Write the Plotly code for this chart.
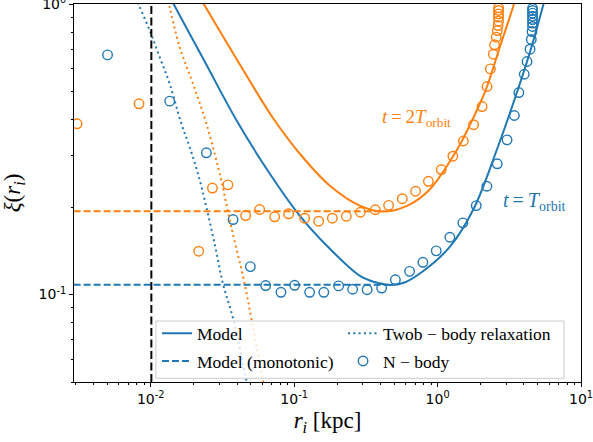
import plotly.graph_objects as go

BLUE = "#1f77b4"
ORANGE = "#ff7f0e"

# ---------------- data ----------------
# N-body, t = T_orbit (blue)
nb1_r = [0.0050, 0.01356, 0.02443, 0.0375, 0.0495, 0.0633, 0.0809, 0.1008, 0.1282, 0.161,
         0.2042, 0.2557, 0.3227, 0.4073, 0.508, 0.638, 0.790, 0.979, 1.218, 1.501,
         1.861, 2.206, 2.606, 3.05, 3.43, 3.687, 4.02, 4.205, 4.412, 4.50,
         4.556, 4.592, 4.592, 4.592, 4.592, 4.592, 4.592, 4.592]
nb1_xi = [0.668, 0.463, 0.3075, 0.1812, 0.1248, 0.1074, 0.1018, 0.1076, 0.1018, 0.1018,
          0.1071, 0.1043, 0.1039, 0.1053, 0.1124, 0.1202, 0.1291, 0.1414, 0.1575, 0.1765,
          0.2024, 0.2359, 0.2818, 0.3407, 0.4132, 0.4958, 0.573, 0.634, 0.699, 0.755,
          0.804, 0.837, 0.860, 0.884, 0.908, 0.930, 0.950, 0.967]

# N-body, t = 2 T_orbit (orange)
nb2_r = [0.003065, 0.00829, 0.0216, 0.02692, 0.0345, 0.0459, 0.0575, 0.0731, 0.0916, 0.1184,
         0.1482, 0.1846, 0.2311, 0.2897, 0.368, 0.4555, 0.5675, 0.7026, 0.863, 1.061,
         1.278, 1.513, 1.782, 2.042, 2.213, 2.333, 2.445, 2.496, 2.565, 2.606,
         2.640, 2.661, 2.661, 2.661, 2.661, 2.661]
nb2_xi = [0.387, 0.4534, 0.141, 0.2326, 0.2385, 0.187, 0.1962, 0.1852, 0.1896, 0.1831,
          0.1788, 0.1831, 0.186, 0.192, 0.1958, 0.2028, 0.2137, 0.2267, 0.2453, 0.2693,
          0.2993, 0.3376, 0.3842, 0.4437, 0.52, 0.598, 0.6718, 0.7237, 0.769, 0.8104,
          0.843, 0.873, 0.901, 0.925, 0.950, 0.970]

# Model, t = T_orbit
m1_r = [0.01232, 0.01445, 0.02378, 0.03972, 0.06537, 0.1092, 0.1768, 0.286, 0.3639, 0.4629,
        0.5888, 0.786, 1.212, 1.782, 2.578, 3.497, 4.377, 5.48, 5.843]
m1_xi = [1.167, 1.0, 0.634, 0.3972, 0.2673, 0.187, 0.1440, 0.1162, 0.1104, 0.1078,
         0.1100, 0.120, 0.1455, 0.1970, 0.3132, 0.4805, 0.6755, 1.0, 1.122]

# Model, t = 2 T_orbit
m2_r = [0.0216, 0.0234, 0.04103, 0.0708, 0.1092, 0.1768, 0.286, 0.4272, 0.638, 0.880,
        1.356, 1.725, 2.161, 2.704, 3.413, 3.552]
m2_xi = [1.07, 1.0, 0.6289, 0.4067, 0.3058, 0.2372, 0.2024, 0.1931, 0.2040, 0.2298,
         0.3132, 0.3939, 0.504, 0.7058, 1.0, 1.07]

# Model (monotonic): flat core up to the minimum
mono1_r = [0.0029, 0.4629]
mono1_xi = [0.108, 0.108]
mono2_r = [0.0029, 0.4272]
mono2_xi = [0.1935, 0.1935]

# Two-body relaxation
tb1_r = [0.00786, 0.00829, 0.00984, 0.01155, 0.01356, 0.01636, 0.0187, 0.02137, 0.02443,
         0.02816, 0.0319, 0.0375, 0.04644, 0.04818]
tb1_xi = [1.053, 0.988, 0.810, 0.656, 0.531, 0.387, 0.3214, 0.2603, 0.1998,
          0.1465, 0.1088, 0.0827, 0.0506, 0.046]
tb2_r = [0.01303, 0.01356, 0.01592, 0.01972, 0.02436, 0.03026, 0.03651, 0.04519, 0.0503,
         0.06063, 0.0628]
tb2_xi = [1.07, 0.975, 0.710, 0.531, 0.3894, 0.2603, 0.1705, 0.1088, 0.0827,
          0.0506, 0.046]

r_soft = 0.0101

x_ticks = [0.01, 0.1, 1, 10]
x_ticktext = ["10<sup>-2</sup>", "10<sup>-1</sup>", "10<sup>0</sup>", "10<sup>1</sup>"]
y_ticks = [0.1, 1]
y_ticktext = ["10<sup>-1</sup>", "10<sup>0</sup>"]
x_minor = [m * 10 ** e for e in (-3, -2, -1, 0) for m in range(2, 10)]
y_minor = [m * 10 ** e for e in (-2, -1) for m in range(2, 10)]

SERIF = "Liberation Serif"
DOT = "2px,3.3px"
DASH = "7px,3px"

# ---------------- figure ----------------
fig = go.Figure()

# blue series (these carry the legend entries)
fig.add_trace(go.Scatter(x=m1_r, y=m1_xi, mode="lines", line=dict(color=BLUE, width=2, shape="spline"),
                         name="Model", legend="legend", legendgroup="a"))
fig.add_trace(go.Scatter(x=mono1_r, y=mono1_xi, mode="lines",
                         line=dict(color=BLUE, width=2, dash=DASH),
                         name="Model (monotonic)", legend="legend", legendgroup="b"))
fig.add_trace(go.Scatter(x=tb1_r, y=tb1_xi, mode="lines",
                         line=dict(color=BLUE, width=2, dash=DOT, shape="spline"),
                         name="Twob − body relaxation", legend="legend2", legendgroup="c"))
fig.add_trace(go.Scatter(x=nb1_r, y=nb1_xi, mode="markers",
                         marker=dict(symbol="circle-open", size=9.5, color=BLUE, line=dict(width=1.4)),
                         name="N − body", legend="legend2", legendgroup="d"))

# orange series
fig.add_trace(go.Scatter(x=m2_r, y=m2_xi, mode="lines", line=dict(color=ORANGE, width=2, shape="spline"),
                         showlegend=False))
fig.add_trace(go.Scatter(x=tb2_r, y=tb2_xi, mode="lines",
                         line=dict(color=ORANGE, width=2, dash=DOT, shape="spline"),
                         showlegend=False))
fig.add_trace(go.Scatter(x=mono2_r, y=mono2_xi, mode="lines",
                         line=dict(color=ORANGE, width=2, dash=DASH), showlegend=False))
fig.add_trace(go.Scatter(x=nb2_r, y=nb2_xi, mode="markers",
                         marker=dict(symbol="circle-open", size=9.5, color=ORANGE, line=dict(width=1.4)),
                         showlegend=False))

fig.add_shape(type="line", xref="x", yref="paper", x0=r_soft, x1=r_soft, y0=0, y1=1,
              line=dict(color="black", width=2, dash="8px,3.5px"))

# legend frame (one box around both legend columns)
fig.add_shape(type="rect", xref="paper", yref="paper", x0=0.1617, x1=0.9665, y0=0.0098, y1=0.1613,
              layer="above", fillcolor="rgba(255,255,255,0.8)", line=dict(color="#cccccc", width=1))

TS = "\u2009"
fig.add_annotation(xref="paper", yref="paper", x=0.6036, y=0.735, xanchor="left",
                   text=f"<i>t</i>{TS}={TS}2<i>T</i><sub>orbit</sub>",
                   showarrow=False, font=dict(family=SERIF, size=19, color=ORANGE))
fig.add_annotation(xref="paper", yref="paper", x=0.8422, y=0.4778, xanchor="left",
                   text=f"<i>t</i>{TS}={TS}<i>T</i><sub>orbit</sub>",
                   showarrow=False, font=dict(family=SERIF, size=20, color=BLUE))

axis_common = dict(type="log", showgrid=False, zeroline=False, showline=True, linecolor="black",
                   linewidth=1, mirror=True, ticks="outside", ticklen=4, tickwidth=1, tickcolor="black",
                   ticklabeloverflow="allow", automargin=False,
                   tickfont=dict(family="DejaVu Sans", size=14, color="black"))

fig.update_xaxes(**axis_common, range=[-2.535, 1], tickvals=x_ticks, ticktext=x_ticktext,
                 minor=dict(tickvals=x_minor, ticks="outside", ticklen=2, tickcolor="black", tickwidth=1),
                 title=dict(text="<i>r<sub>i</sub></i> [kpc]", font=dict(family=SERIF, size=23, color="black"),
                            standoff=6))
fig.update_yaxes(**axis_common, range=[-1.301, 0], tickvals=y_ticks, ticktext=y_ticktext,
                 minor=dict(tickvals=y_minor, ticks="outside", ticklen=2, tickcolor="black", tickwidth=1),
                 title=dict(text="<i>ξ</i>(<i>r<sub>i</sub></i>)", font=dict(family=SERIF, size=23, color="black"),
                            standoff=14))

legend_common = dict(orientation="v", xanchor="left", yanchor="top",
                     bgcolor="rgba(0,0,0,0)", borderwidth=0, tracegroupgap=2,
                     font=dict(family=SERIF, size=17.5, color="black"), itemwidth=30)

fig.update_layout(
    width=593, height=442,
    margin=dict(l=74, r=12, t=4, b=60, autoexpand=False),
    paper_bgcolor="white", plot_bgcolor="white",
    showlegend=True,
    legend=dict(**legend_common, x=0.1637, y=0.1764),
    legend2=dict(**legend_common, x=0.5306, y=0.1764),
)

fig.write_html("out.html", config={"displayModeBar": False},
               post_script="document.body.style.margin='0';document.body.style.overflow='hidden';")
